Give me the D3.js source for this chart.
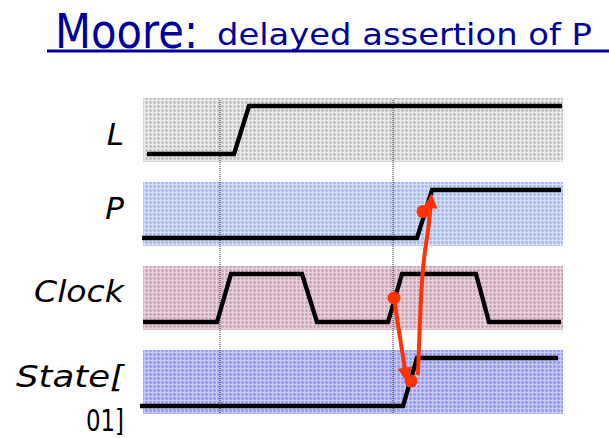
<!DOCTYPE html>
<html>
<head>
<meta charset="utf-8">
<script src="https://cdn.jsdelivr.net/npm/d3@7"></script>
<style>
  html, body { margin: 0; padding: 0; background: #fff; }
  svg { display: block; }
</style>
</head>
<body>
<svg id="chart" width="609" height="438"></svg>
<script>
// ---- data ----
const titleMain = "Moore:";
const titleSub = "delayed assertion of P";
const signals = ["L", "P", "Clock", "State"];
const signalLabels = [["L"], ["P"], ["Clock"], ["State[", "01]"]];
// waveform corner points: time values
const timesL     = [4, 91, 106, 419];
const levelsL    = [0, 0, 1, 1];
const timesP     = [-1, 274, 289, 418];
const levelsP    = [0, 0, 1, 1];
const timesClock = [0, 74, 88, 159, 174, 245, 259, 333, 346, 418];
const levelsClock= [0, 0, 1, 1, 0, 0, 1, 1, 0, 0];
const timesState = [-3, 260, 274, 415];
const levelsState= [0, 0, 1, 1];
const markerTimes = [77, 250];
// causal arrows: [time, signal, level]
const arrow1 = [[251, "Clock", 0.5], [256, "Clock", -0.2], [261, "State", 0.9], [263, "State", 0.62]];
const arrow1Dots = [[251, "Clock", 0.5], [268, "State", 0.52]];
const arrow2 = [[275, "State", 0.68], [276, "State", 1.3], [279, "Clock", 1.0], [282, "Clock", 1.5], [286, "P", 0.25], [288, "P", 0.8]];
const arrow2Dots = [[280, "P", 0.55]];

const waves = {
  L: d3.zip(timesL, levelsL),
  P: d3.zip(timesP, levelsP),
  Clock: d3.zip(timesClock, levelsClock),
  State: d3.zip(timesState, levelsState)
};

// ---- layout ----
const svg = d3.select("#chart");
const x = d3.scaleLinear().domain([0, 420]).range([143, 563]);
const row = d3.scaleBand().domain(signals).range([98, 414]).paddingInner(0.238).paddingOuter(0);
const pad = 8;
function yOf(sig, lev) {
  const top = row(sig), h = row.bandwidth();
  const lvl = d3.scaleLinear().domain([0, 1]).range([top + h - pad, top + pad]);
  return lvl(lev);
}

const bandColors = {
  L:     { base: "#cfcfcf", light: "#ececec", dot: "#a8a8a8" },
  P:     { base: "#b3c3f3", light: "#d6e0fb", dot: "#8fa3e0" },
  Clock: { base: "#d6b0c3", light: "#ead3de", dot: "#b58ea2" },
  State: { base: "#a4a6f4", light: "#c8caf9", dot: "#7f82e0" }
};

const defs = svg.append("defs");
signals.forEach(s => {
  const c = bandColors[s];
  const p = defs.append("pattern").attr("id", "pat-" + s)
    .attr("patternUnits", "userSpaceOnUse").attr("width", 4).attr("height", 4);
  p.append("rect").attr("width", 4).attr("height", 4).attr("fill", c.base);
  p.append("rect").attr("x", 0).attr("y", 0).attr("width", 4).attr("height", 1).attr("fill", c.light);
  p.append("rect").attr("x", 0).attr("y", 0).attr("width", 1).attr("height", 4).attr("fill", c.light);
  p.append("rect").attr("x", 2).attr("y", 2).attr("width", 1).attr("height", 1).attr("fill", c.dot);
});

// arrow marker
defs.append("marker").attr("id", "arrowhead")
  .attr("viewBox", "0 0 10 10").attr("refX", 6).attr("refY", 5)
  .attr("markerWidth", 3.8).attr("markerHeight", 3.6)
  .attr("orient", "auto").attr("markerUnits", "strokeWidth")
  .append("path").attr("d", "M0,0 L10,5 L0,10 Z").attr("fill", "#ff3300");

// bands
svg.append("g").selectAll("rect").data(signals).join("rect")
  .attr("x", x(0)).attr("width", x(420) - x(0))
  .attr("y", d => row(d)).attr("height", row.bandwidth())
  .attr("fill", d => "url(#pat-" + d + ")");

// dotted marker lines
svg.append("g").selectAll("line").data(markerTimes).join("line")
  .attr("x1", d => x(d)).attr("x2", d => x(d))
  .attr("y1", row("L") + 2).attr("y2", row("State") + row.bandwidth())
  .attr("stroke", "#222").attr("stroke-width", 1).attr("stroke-dasharray", "1,1");

// waveforms
signals.forEach(s => {
  const line = d3.line().x(d => x(d[0])).y(d => yOf(s, d[1]));
  svg.append("path").datum(waves[s]).attr("d", line)
    .attr("fill", "none").attr("stroke", "#000").attr("stroke-width", 4.3)
    .attr("stroke-linejoin", "miter");
});

// labels
const labelFont = "'DejaVu Sans', sans-serif";
const labelOffsets = { L: 15, P: 5, Clock: 4, State: 5 };
const labelWidths = { Clock: 90, "State[": 108, "01]": 38 };
signals.forEach((s, i) => {
  const cy = row(s) + row.bandwidth() / 2 + labelOffsets[s];
  signalLabels[i].forEach((t, j) => {
    const txt = svg.append("text").attr("x", 124).attr("y", cy + j * 44)
      .attr("text-anchor", "end")
      .attr("font-family", labelFont)
      .attr("font-size", j === 1 ? 30 : 31).attr("fill", "#000")
      .attr("font-style", j === 1 ? "normal" : "italic")
      .text(t);
    if (labelWidths[t]) txt.attr("textLength", labelWidths[t]).attr("lengthAdjust", "spacingAndGlyphs");
  });
});

// causal arrows
const aLine = d3.line().x(d => x(d[0])).y(d => yOf(d[1], d[2])).curve(d3.curveBasis);
[arrow1, arrow2].forEach(a => {
  svg.append("path").datum(a).attr("d", aLine)
    .attr("fill", "none").attr("stroke", "#ff3300").attr("stroke-width", 4)
    .attr("stroke-linecap", "round")
    .attr("marker-end", "url(#arrowhead)");
});
svg.append("g").selectAll("circle").data(arrow1Dots.concat(arrow2Dots)).join("circle")
  .attr("cx", d => x(d[0])).attr("cy", d => yOf(d[1], d[2])).attr("r", 6.5)
  .attr("fill", "#ff3300");

// title
const tFont = "'DejaVu Sans', sans-serif";
svg.append("text").attr("x", 55).attr("y", 48)
  .attr("font-family", tFont).attr("font-size", 48).attr("fill", "#000099")
  .attr("textLength", 143).attr("lengthAdjust", "spacingAndGlyphs")
  .text(titleMain);
svg.append("text").attr("x", 217).attr("y", 45)
  .attr("font-family", tFont).attr("font-size", 31).attr("fill", "#000099")
  .attr("textLength", 375).attr("lengthAdjust", "spacingAndGlyphs")
  .text(titleSub);
svg.append("line").attr("x1", 47).attr("x2", 609).attr("y1", 51).attr("y2", 51)
  .attr("stroke", "#000099").attr("stroke-width", 3);
</script>
</body>
</html>
